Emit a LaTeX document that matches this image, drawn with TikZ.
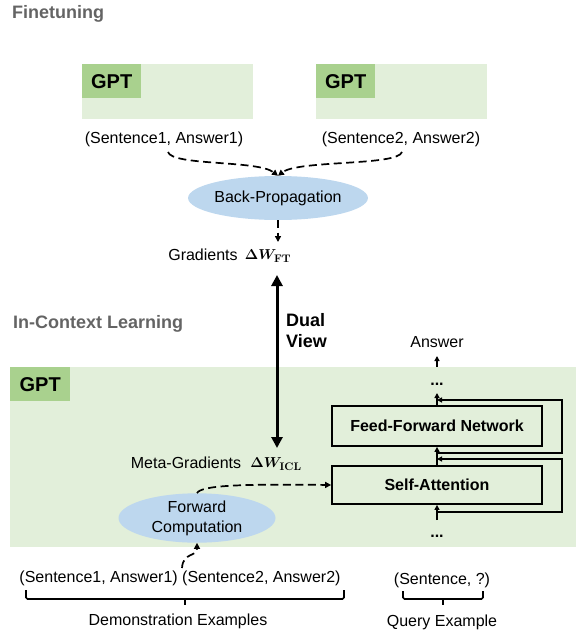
\documentclass[tikz,border=0pt]{standalone}
\usepackage[no-math]{fontspec}
\setmainfont{Liberation Sans}
\usepackage{bm}
\usetikzlibrary{arrows.meta,shapes.geometric}
\definecolor{bglight}{HTML}{E2EFDA}
\definecolor{gptgreen}{HTML}{A9D18E}
\definecolor{ellblue}{HTML}{BDD7EE}
\definecolor{headgray}{HTML}{646464}
\begin{document}
\begin{tikzpicture}[x=1pt,y=-1pt,
  txt/.style={font=\fontsize{16}{20}\selectfont, inner sep=0pt},
  mth/.style={font=\fontsize{15}{18}\selectfont, inner sep=0pt},
  head/.style={font=\fontsize{18}{21}\selectfont\bfseries, text=headgray, inner sep=0pt, anchor=base west},
  panel/.style={fill=bglight, inner sep=0pt, anchor=north west},
  gptlab/.style={fill=gptgreen, font=\fontsize{20}{24}\selectfont\bfseries, inner sep=0pt, anchor=north west, minimum width=59pt, minimum height=34pt},
  oval/.style={ellipse, fill=ellblue, inner sep=0pt, font=\fontsize{16}{20}\selectfont, align=center},
  layer/.style={draw, line width=1.8pt, minimum width=210pt, inner sep=0pt, font=\fontsize{16}{20}\selectfont\bfseries},
  dasharrow/.style={line width=1.7pt, dash pattern=on 8pt off 4.5pt, -{Triangle[length=6pt,width=6pt]}},
  flow/.style={line width=1.7pt, -{Triangle[length=5pt,width=5pt]}},
  dual/.style={line width=3pt, {Triangle[length=11pt,width=11pt]}-{Triangle[length=11pt,width=11pt]}},
  brk/.style={line width=1.7pt, rounded corners=1.5pt},
  dots/.style={font=\fontsize{16}{20}\selectfont\bfseries, inner sep=0pt}
]
\useasboundingbox (0,0) rectangle (576,632);

% ---------------- Finetuning ----------------
\node[head] (fthead) at (12,18.5) {Finetuning};

\node[panel, minimum width=171pt, minimum height=55pt] (ftA) at (82,64) {};
\node[gptlab] (ftAl) at (82,64) {GPT};
\node[panel, minimum width=171pt, minimum height=55pt] (ftB) at (316,64) {};
\node[gptlab] (ftBl) at (316,64) {GPT};

\node[txt] (sA) at (164,139) {(Sentence1, Answer1)};
\node[txt] (sB) at (401,139) {(Sentence2, Answer2)};

\node[oval, minimum width=157pt, minimum height=44pt] (bp) at (278,198) {Back-Propagation};

\coordinate (cA) at (168,152);
\coordinate (cB) at (402,152);
\draw[dasharrow] (cA) .. controls (172,166) and (258,160) .. (bp.north);
\draw[dasharrow] (cB) .. controls (398,166) and (298,160) .. (bp.north);

\node[txt] (grad) at (203,255) {Gradients};
\node[mth] (wft) at (268,256) {$\bm{\Delta W}_{\mathbf{FT}}$};
\coordinate (gradtop) at (278,242);
\draw[dasharrow] (bp.south) -- (gradtop);

% ---------------- In-Context Learning ----------------
\node[head] (iclhead) at (13,328) {In-Context Learning};

\node[panel, minimum width=566pt, minimum height=180pt] (icl) at (10,367) {};
\node[gptlab, minimum width=60pt] (icll) at (10,367) {GPT};

\coordinate (dtop) at (277,275);
\coordinate (dbot) at (277,448);
\draw[dual] (dtop) -- (dbot);
\node[font=\fontsize{18}{21}\selectfont\bfseries, align=left, inner sep=0pt] (dv) at (306.5,330.5) {Dual\\View};

\node[txt] (mg) at (186,463) {Meta-Gradients};
\node[mth] (wicl) at (276,464) {$\bm{\Delta W}_{\mathbf{ICL}}$};

\node[oval, minimum width=157pt, minimum height=44pt] (fc) at (197,518) {Forward\\Computation};

\node[layer, minimum height=40pt] (ffn) at (437,426) {Feed-Forward Network};
\node[layer, minimum height=38pt] (sa) at (437,485) {Self-Attention};

\node[txt] (ans) at (437,342) {Answer};
\coordinate (ansfoot) at (437,367);
\coordinate (anstip) at (437,356);
\draw[flow] (ansfoot) -- (anstip);

\node[dots] (dtopn) at (437,384) {...};
\node[dots] (dbotn) at (437,536) {...};

\coordinate (inbot) at (437,520);
\coordinate (tap1) at (437,512);
\coordinate (join1) at (437,459);
\coordinate (tap2) at (437,453);
\coordinate (join2) at (437,400);
\coordinate (outtop) at (437,393);

\draw[flow] (inbot) -- (sa.south);
\draw[flow] (sa.north) -- (ffn.south);
\draw[flow] (ffn.north) -- (outtop);
\draw[flow] (tap1) -- (562,512) -- (562,459) -- (join1);
\draw[flow] (tap2) -- (562,453) -- (562,400) -- (join2);

\draw[dasharrow] (fc.north) .. controls (201,485) and (245,484) .. (sa.west);

\coordinate (demo) at (182,568);
\draw[dasharrow] (demo) .. controls (183,552) and (197,557) .. (fc.south);

% ---------------- examples ----------------
\node[txt] (demos) at (180,578) {(Sentence1, Answer1) (Sentence2, Answer2)};
\node[txt] (query) at (442,580) {(Sentence, ?)};
\draw[brk] (26,590) -- (26,599) -- (344,599) -- (344,590);
\draw[brk] (185,599) -- (185,605);
\draw[brk] (403,591) -- (403,599) -- (483,599) -- (483,591);
\draw[brk] (443,599) -- (443,605);
\node[txt] (demol) at (178,621) {Demonstration Examples};
\node[txt] (queryl) at (442,622) {Query Example};
\end{tikzpicture}
\end{document}
